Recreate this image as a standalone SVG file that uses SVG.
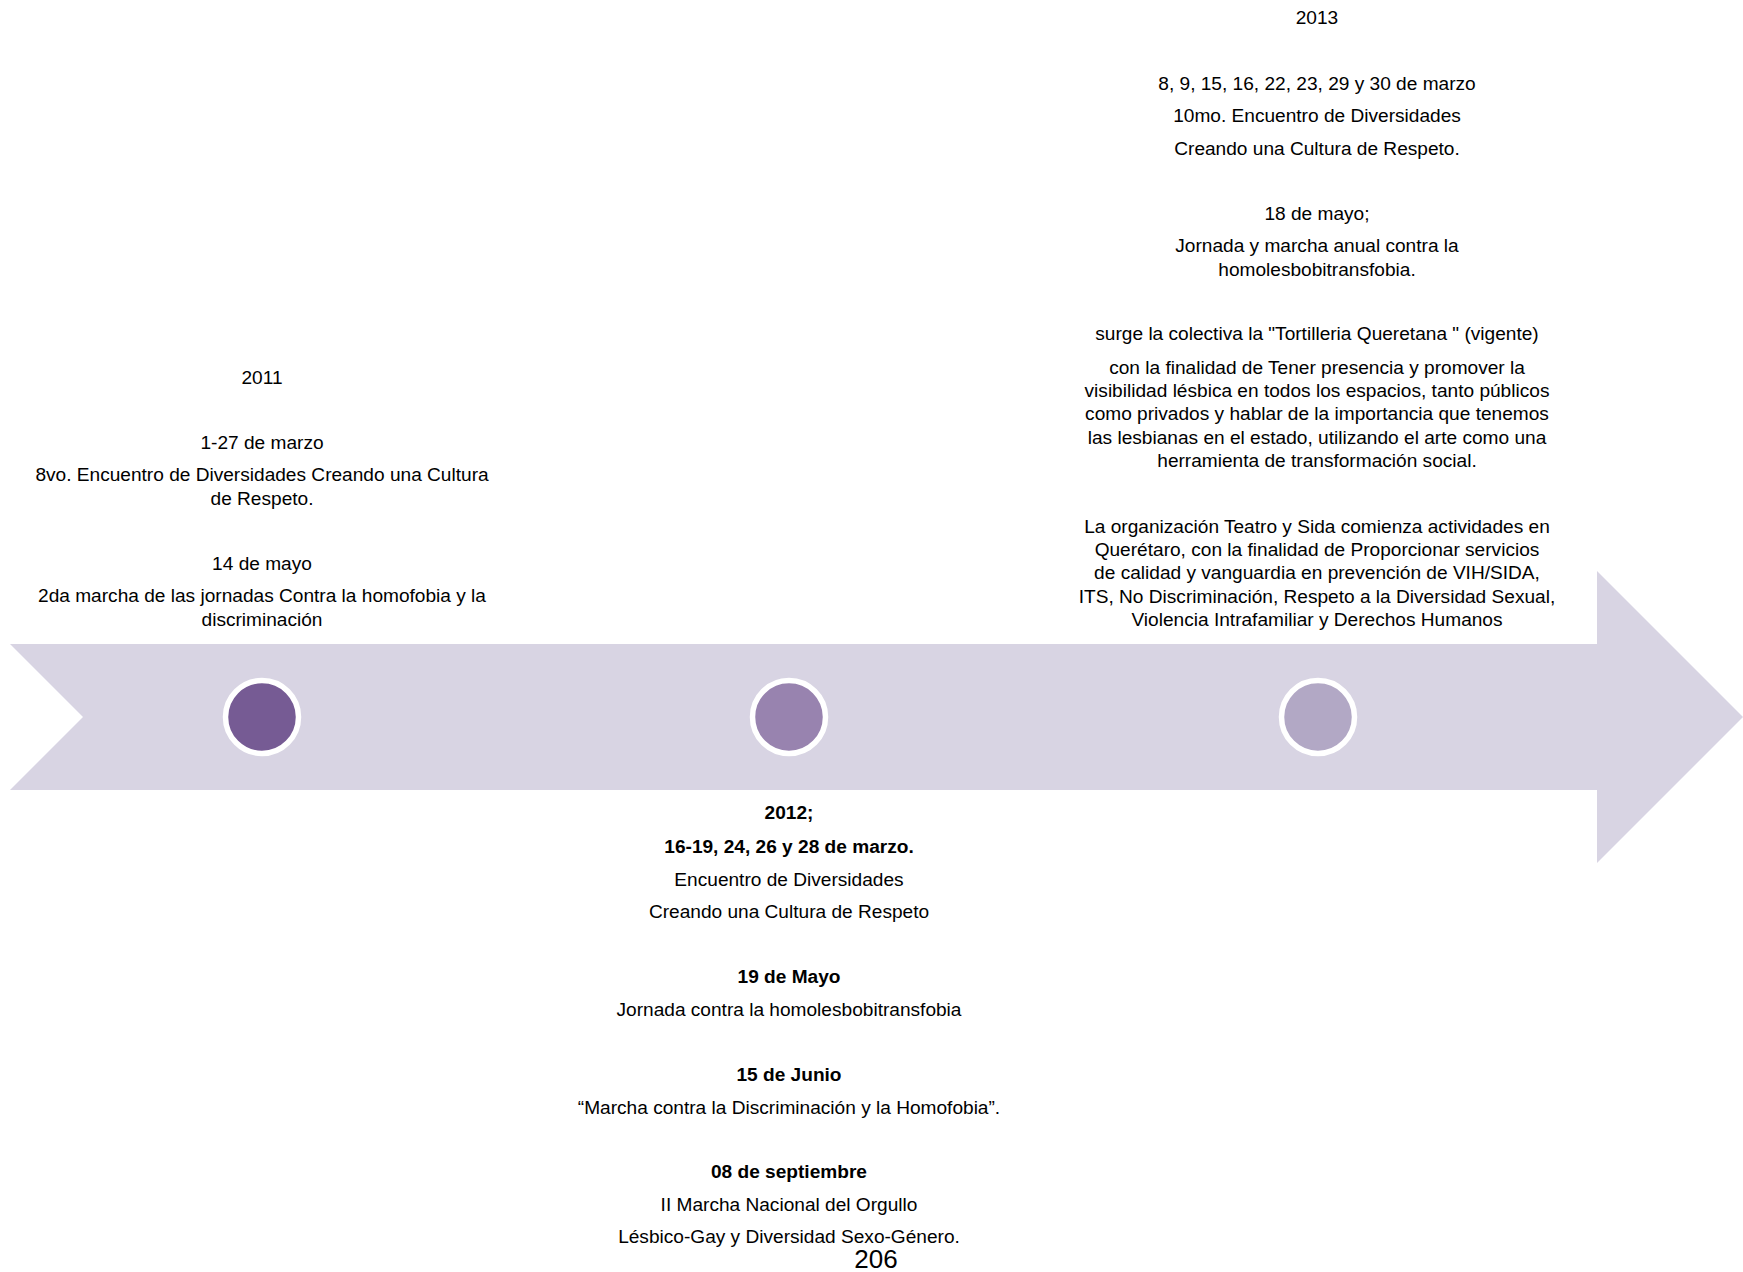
<svg xmlns="http://www.w3.org/2000/svg" width="1743" height="1272" viewBox="0 0 1743 1272">
<style>
  text { font-family: "Liberation Sans", Arial, sans-serif; font-size: 19.1px; fill: #000; text-anchor: middle; }
  .b { font-weight: bold; }
  .dot { stroke: #fff; stroke-width: 5.5; }
</style>
<rect width="1743" height="1272" fill="#fff"/>
<g id="connectors">
  <polygon id="timeline-arrow" points="10,644 1597,644 1597,571 1743,717 1597,863 1597,790 10,790 83,717" fill="#D8D4E3"/>
</g>
<g id="node-2011">
  <circle class="dot" cx="262" cy="717" r="36.5" fill="#765B94"/>
  <text x="262" y="384">2011</text>
  <text x="262" y="449">1-27 de marzo</text>
  <text x="262" y="481">8vo. Encuentro de Diversidades Creando una Cultura</text>
  <text x="262" y="505">de Respeto.</text>
  <text x="262" y="570">14 de mayo</text>
  <text x="262" y="602">2da marcha de las jornadas Contra la homofobia y la</text>
  <text x="262" y="626">discriminación</text>
</g>
<g id="node-2012">
  <circle class="dot" cx="789" cy="717" r="36.5" fill="#9883AF"/>
  <text class="b" x="789" y="819">2012;</text>
  <text class="b" x="789" y="853">16-19, 24, 26 y 28 de marzo.</text>
  <text x="789" y="886">Encuentro de Diversidades</text>
  <text x="789" y="918">Creando una Cultura de Respeto</text>
  <text class="b" x="789" y="983">19 de Mayo</text>
  <text x="789" y="1016">Jornada contra la homolesbobitransfobia</text>
  <text class="b" x="789" y="1081">15 de Junio</text>
  <text x="789" y="1114">“Marcha contra la Discriminación y la Homofobia”.</text>
  <text class="b" x="789" y="1178">08 de septiembre</text>
  <text x="789" y="1211">II Marcha Nacional del Orgullo</text>
  <text x="789" y="1243">Lésbico-Gay y Diversidad Sexo-Género.</text>
</g>
<g id="node-2013">
  <circle class="dot" cx="1318" cy="717" r="36.5" fill="#B2A8C5"/>
  <text x="1317" y="24">2013</text>
  <text x="1317" y="90">8, 9, 15, 16, 22, 23, 29 y 30 de marzo</text>
  <text x="1317" y="122">10mo. Encuentro de Diversidades</text>
  <text x="1317" y="155">Creando una Cultura de Respeto.</text>
  <text x="1317" y="220">18 de mayo;</text>
  <text x="1317" y="252">Jornada y marcha anual contra la</text>
  <text x="1317" y="276">homolesbobitransfobia.</text>
  <text x="1317" y="340">surge la colectiva la "Tortilleria Queretana " (vigente)</text>
  <text x="1317" y="374">con la finalidad de Tener presencia y promover la</text>
  <text x="1317" y="397">visibilidad lésbica en todos los espacios, tanto públicos</text>
  <text x="1317" y="420">como privados y hablar de la importancia que tenemos</text>
  <text x="1317" y="444">las lesbianas en el estado, utilizando el arte como una</text>
  <text x="1317" y="467">herramienta de transformación social.</text>
  <text x="1317" y="533">La organización Teatro y Sida comienza actividades en</text>
  <text x="1317" y="556">Querétaro, con la finalidad de Proporcionar servicios</text>
  <text x="1317" y="579">de calidad y vanguardia en prevención de VIH/SIDA,</text>
  <text x="1317" y="603">ITS, No Discriminación, Respeto a la Diversidad Sexual,</text>
  <text x="1317" y="626">Violencia Intrafamiliar y Derechos Humanos</text>
</g>
<g id="page-number">
  <text x="876" y="1268" style="font-size:26px">206</text>
</g>
</svg>
